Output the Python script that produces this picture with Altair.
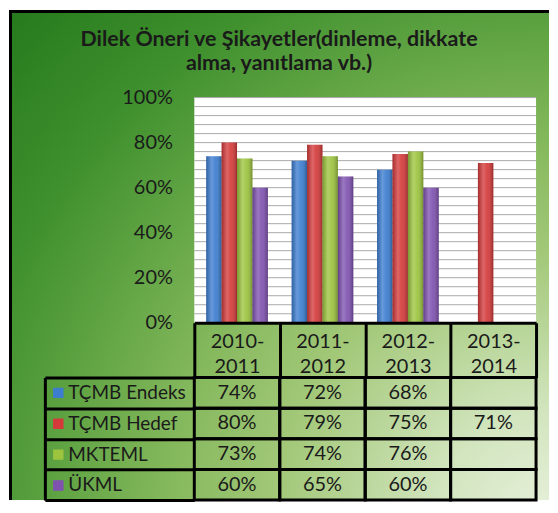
import altair as alt
import pandas as pd

# ---- data ----
CATEGORIES = ["2010-2011", "2011-2012", "2012-2013", "2013-2014"]
SERIES = ["TÇMB Endeks", "TÇMB Hedef", "MKTEML", "ÜKML"]
ENDEKS = [74, 72, 68, None]
HEDEF = [80, 79, 75, 71]
MKTEML = [73, 74, 76, None]
UKML = [60, 65, 60, None]
COLORS = ["#3c7dd0", "#d43a3a", "#9cc43e", "#7f52b0"]
Y_TICKS = [0, 20, 40, 60, 80, 100]
GRID_LINES = [4, 8, 12, 16, 20, 24, 28, 32, 36, 40, 44, 48, 52, 56, 60, 64, 68, 72, 76, 80, 84, 88, 92, 96, 100]
TITLE = ["Dilek Öneri ve Şikayetler(dinleme,  dikkate", "alma, yanıtlama vb.)"]

rows = []
for s, vals in zip(SERIES, [ENDEKS, HEDEF, MKTEML, UKML]):
    for c, v in zip(CATEGORIES, vals):
        rows.append({"cat": c, "series": s, "v": v})
df = pd.DataFrame(rows)

FONT = "Lato"
TXT = "#1a1a1a"
FS = 20

bg_fill = {
    "gradient": "radial",
    "x1": 1, "y1": 1, "r1": 0,
    "x2": 1, "y2": 1, "r2": 1.4,
    "stops": [
        {"offset": 0.0, "color": "#e8f1dd"},
        {"offset": 0.15, "color": "#d2e5be"},
        {"offset": 0.36, "color": "#a2c878"},
        {"offset": 0.5, "color": "#86b95e"},
        {"offset": 0.64, "color": "#62a545"},
        {"offset": 0.79, "color": "#3e8f2d"},
        {"offset": 1.0, "color": "#25791b"},
    ],
}

shade_fill = {
    "gradient": "linear",
    "x1": 0, "y1": 0, "x2": 1, "y2": 0,
    "stops": [
        {"offset": 0.0, "color": "rgba(0,0,0,0.22)"},
        {"offset": 0.35, "color": "rgba(255,255,255,0.22)"},
        {"offset": 0.6, "color": "rgba(255,255,255,0.08)"},
        {"offset": 1.0, "color": "rgba(0,0,0,0.28)"},
    ],
}

one = alt.Data(values=[{"k": 0}])

xscale = alt.Scale(domain=CATEGORIES, paddingInner=0, paddingOuter=0)
yscale = alt.Scale(domain=[0, 100])

yaxis = alt.Axis(values=Y_TICKS, labelExpr="datum.value + '%'", domain=False, ticks=False,
                 grid=False, labelFontSize=FS, labelColor=TXT, labelFont=FONT,
                 labelPadding=22, title=None, zindex=1)

xaxis = alt.Axis(orient="bottom", labelAngle=0, domainColor="black", domainWidth=3,
                 tickBand="extent", tickSize=55, tickWidth=3, tickColor="black",
                 labelExpr="[slice(datum.label, 0, 5), slice(datum.label, 5)]",
                 labelFontSize=FS, labelColor=TXT, labelFont=FONT, labelLineHeight=25,
                 labelBaseline="top", labelPadding=-46, title=None, zindex=1)

legend = alt.Legend(orient="none", legendX=-142, legendY=281, title=None,
                    symbolType="square", symbolSize=110, symbolStrokeWidth=0,
                    labelExpr="''", clipHeight=30.75, rowPadding=0, padding=0)

# background panel (gradient) and its top/left frame
bg = alt.Chart(one).mark_rect(fill=bg_fill).encode(
    x=alt.value(-186), x2=alt.value(356), y=alt.value(-88), y2=alt.value(404)
)
frame_top = alt.Chart(one).mark_rect(fill="black").encode(
    x=alt.value(-186), x2=alt.value(356), y=alt.value(-88), y2=alt.value(-85)
)
frame_left = alt.Chart(one).mark_rect(fill="black").encode(
    x=alt.value(-186), x2=alt.value(-183), y=alt.value(-88), y2=alt.value(404)
)

plot_bg = alt.Chart(one).mark_rect(fill="white").encode(
    x=alt.value(0), x2=alt.value("width"), y=alt.value(0), y2=alt.value("height")
)

grid = alt.Chart(alt.Data(values=[{"g": g} for g in GRID_LINES])).mark_rule(
    color="#aaaaaa", strokeWidth=1
).encode(y=alt.Y("g:Q", scale=yscale, axis=yaxis))

bx = alt.X("cat:N", scale=xscale, axis=xaxis, sort=CATEGORIES)
bxo = alt.XOffset("series:N", scale=alt.Scale(domain=SERIES, paddingInner=0, paddingOuter=0.77))
by = alt.Y("v:Q", scale=yscale, axis=yaxis)

bars = alt.Chart(df).transform_filter("isValid(datum.v)").mark_bar().encode(
    x=bx, xOffset=bxo, y=by,
    color=alt.Color("series:N", scale=alt.Scale(domain=SERIES, range=COLORS), legend=legend),
)

shade = alt.Chart(df).transform_filter("isValid(datum.v)").mark_bar(fill=shade_fill).encode(
    x=bx, xOffset=bxo, y=by
)

top = alt.layer(bg, frame_top, frame_left, plot_bg, grid, bars, shade).properties(width=343, height=226)

# ---- data table ----
rscale = alt.Scale(domain=SERIES, paddingInner=0, paddingOuter=0)
raxis = alt.Axis(orient="left", domain=False, tickBand="extent", tickSize=150, tickWidth=3,
                 tickColor="black", labelAlign="left", labelPadding=-23, labelFontSize=19,
                 labelColor=TXT, labelFont=FONT, labelBaseline="middle", title=None,
                 grid=False, zindex=1)

tx = alt.X("cat:N", scale=xscale, axis=None, sort=CATEGORIES)

cells = alt.Chart(df).mark_rect(filled=False, stroke="black", strokeWidth=3).encode(
    x=tx, y=alt.Y("series:N", scale=rscale, axis=raxis, sort=SERIES)
)

texts = alt.Chart(df).transform_filter("isValid(datum.v)").transform_calculate(
    lbl="datum.v + '%'"
).mark_text(fontSize=FS, color=TXT, font=FONT).encode(
    x=tx, y=alt.Y("series:N", scale=rscale, axis=raxis, sort=SERIES), text="lbl:N"
)

edge = alt.Chart(df).mark_rect(opacity=0).encode(
    x=tx,
    y=alt.Y("series:N", scale=alt.Scale(domain=SERIES, paddingInner=0, paddingOuter=0),
            axis=alt.Axis(orient="left", offset=150, labels=False, ticks=False, grid=False,
                          domainColor="black", domainWidth=3, title=None, zindex=1)),
)

table = alt.layer(alt.layer(cells, texts), edge).resolve_scale(y="independent").properties(
    width=343, height=123
)

chart = alt.vconcat(top, table, spacing=55, bounds="flush").properties(
    padding=0,
    title=alt.TitleParams(text=TITLE, fontSize=21.5, font=FONT, fontWeight="bold", color=TXT,
                          anchor="middle", offset=-65, lineHeight=24),
).configure_view(strokeWidth=0).configure(font=FONT)

chart.save("out.html", embed_options={"renderer": "svg", "actions": False})
